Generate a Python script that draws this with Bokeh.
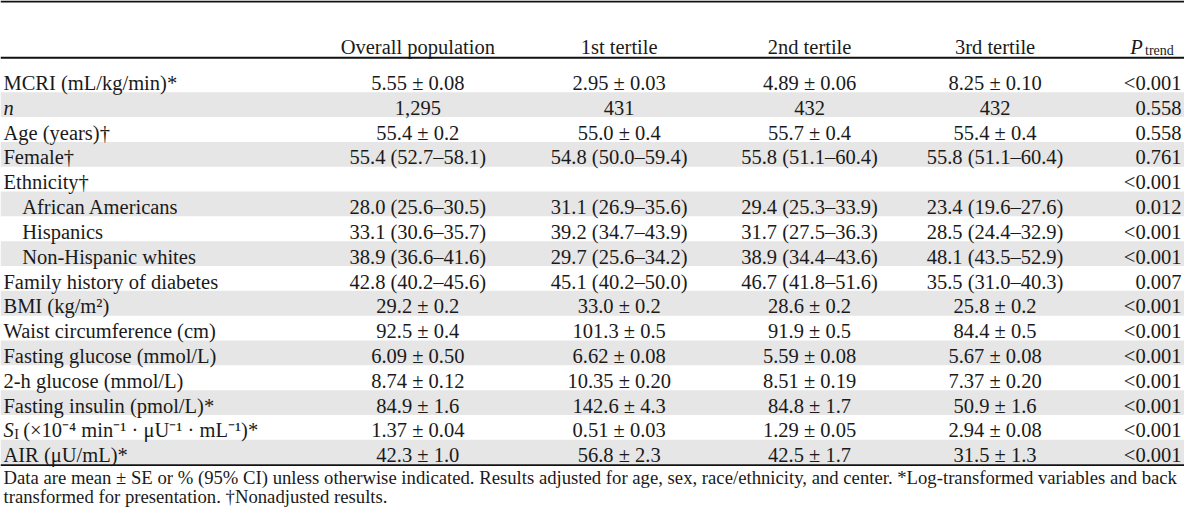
from bokeh.plotting import figure
from bokeh.models import Range1d
from bokeh.core.properties import value
from bokeh.embed import file_html
from bokeh.resources import INLINE

# ---------------- data ----------------
col_headers = ["Overall population", "1st tertile", "2nd tertile", "3rd tertile"]
p_header_main = "P"
p_header_sub = "trend"

row_labels = [
    "MCRI (mL/kg/min)*",
    "n",
    "Age (years)†",
    "Female†",
    "Ethnicity†",
    "African Americans",
    "Hispanics",
    "Non-Hispanic whites",
    "Family history of diabetes",
    "BMI (kg/m²)",
    "Waist circumference (cm)",
    "Fasting glucose (mmol/L)",
    "2-h glucose (mmol/L)",
    "Fasting insulin (pmol/L)*",
    "SI (×10⁻⁴ min⁻¹ · μU⁻¹ · mL⁻¹)*",
    "AIR (μU/mL)*",
]
row_indent = [0, 0, 0, 0, 0, 1, 1, 1, 0, 0, 0, 0, 0, 0, 0, 0]
si_main, si_sub, si_rest = "S", "I", "(×10⁻⁴ min⁻¹ · μU⁻¹ · mL⁻¹)*"

overall = ["5.55 ± 0.08", "1,295", "55.4 ± 0.2", "55.4 (52.7–58.1)", "",
           "28.0 (25.6–30.5)", "33.1 (30.6–35.7)", "38.9 (36.6–41.6)",
           "42.8 (40.2–45.6)", "29.2 ± 0.2", "92.5 ± 0.4", "6.09 ± 0.50",
           "8.74 ± 0.12", "84.9 ± 1.6", "1.37 ± 0.04", "42.3 ± 1.0"]
tertile1 = ["2.95 ± 0.03", "431", "55.0 ± 0.4", "54.8 (50.0–59.4)", "",
            "31.1 (26.9–35.6)", "39.2 (34.7–43.9)", "29.7 (25.6–34.2)",
            "45.1 (40.2–50.0)", "33.0 ± 0.2", "101.3 ± 0.5", "6.62 ± 0.08",
            "10.35 ± 0.20", "142.6 ± 4.3", "0.51 ± 0.03", "56.8 ± 2.3"]
tertile2 = ["4.89 ± 0.06", "432", "55.7 ± 0.4", "55.8 (51.1–60.4)", "",
            "29.4 (25.3–33.9)", "31.7 (27.5–36.3)", "38.9 (34.4–43.6)",
            "46.7 (41.8–51.6)", "28.6 ± 0.2", "91.9 ± 0.5", "5.59 ± 0.08",
            "8.51 ± 0.19", "84.8 ± 1.7", "1.29 ± 0.05", "42.5 ± 1.7"]
tertile3 = ["8.25 ± 0.10", "432", "55.4 ± 0.4", "55.8 (51.1–60.4)", "",
            "23.4 (19.6–27.6)", "28.5 (24.4–32.9)", "48.1 (43.5–52.9)",
            "35.5 (31.0–40.3)", "25.8 ± 0.2", "84.4 ± 0.5", "5.67 ± 0.08",
            "7.37 ± 0.20", "50.9 ± 1.6", "2.94 ± 0.08", "31.5 ± 1.3"]
p_trend = ["<0.001", "0.558", "0.558", "0.761", "<0.001", "0.012", "<0.001",
           "<0.001", "0.007", "<0.001", "<0.001", "<0.001", "<0.001",
           "<0.001", "<0.001", "<0.001"]

footnotes = [
    "Data are mean ± SE or % (95% CI) unless otherwise indicated. Results adjusted for age, sex, race/ethnicity, and center. *Log-transformed variables and back",
    "transformed for presentation. †Nonadjusted results.",
]

# ---------------- layout (reference pixel space) ----------------
REF_W, REF_H = 1200, 529
W, H = 1184, 513
FONT = value("Liberation Serif")
FS = "20.5px"
FS_SMALL = "14px"
FS_NOTE = "18.7px"
TXT = "#1a1a1a"
BAND = "#e6e6e6"

row_top0 = 69.0
pitch = 25.6
baseline_off = 16.0
label_x = 3
indent_w = 19
col_x = [423, 627, 820, 1008]
p_right = 1197

p = figure(width=W, height=H, x_range=Range1d(0, REF_W), y_range=Range1d(REF_H, 0),
           output_backend="svg", toolbar_location=None,
           x_axis_location=None, y_axis_location=None,
           min_border=0, min_border_left=0, min_border_right=0,
           min_border_top=0, min_border_bottom=0)
p.grid.visible = False
p.outline_line_color = None
p.background_fill_color = "white"
p.border_fill_color = "white"

n = len(row_labels)
tops = [row_top0 + pitch * i for i in range(n)]
base = [t + baseline_off for t in tops]

# gray bands for alternate rows
band_idx = [i for i in range(n) if i % 2 == 1]
p.quad(left=0, right=REF_W, top=[tops[i] for i in band_idx],
       bottom=[tops[i] + pitch for i in band_idx], fill_color=BAND, line_color=None)

# rules
rule_y = [1.0, 59.0, row_top0 + pitch * n + 0.5]
rule_w = [2.0, 2.0, 1.6]
for y, lw in zip(rule_y, rule_w):
    p.segment(x0=0, x1=REF_W, y0=y, y1=y, line_color="#111111", line_width=lw)

common = dict(text_font=FONT, text_color=TXT, text_baseline="alphabetic")

# header
header_base = 47.5
p.text(x=col_x, y=[header_base] * 4, text=col_headers, text_align="center",
       text_font_size=FS, **common)
p.text(x=[1145], y=[header_base], text=[p_header_main], text_align="left",
       text_font_size=FS, text_font_style="italic", **common)
p.text(x=[1160], y=[header_base + 4], text=[p_header_sub], text_align="left",
       text_font_size=FS_SMALL, **common)

# row labels
si_row = row_labels.index("SI (×10⁻⁴ min⁻¹ · μU⁻¹ · mL⁻¹)*")
n_row = row_labels.index("n")
plain = [i for i in range(n) if i not in (si_row, n_row)]
p.text(x=[label_x + indent_w * row_indent[i] for i in plain], y=[base[i] for i in plain],
       text=[row_labels[i] for i in plain], text_align="left", text_font_size=FS, **common)
p.text(x=[label_x], y=[base[n_row]], text=[row_labels[n_row]], text_align="left",
       text_font_size=FS, text_font_style="italic", **common)
p.text(x=[label_x], y=[base[si_row]], text=[si_main], text_align="left",
       text_font_size=FS, text_font_style="italic", **common)
p.text(x=[label_x + 11], y=[base[si_row] + 4], text=[si_sub], text_align="left",
       text_font_size=FS_SMALL, **common)
p.text(x=[label_x + 20], y=[base[si_row]], text=[si_rest], text_align="left",
       text_font_size=FS, **common)

# value columns
for cx, vals in zip(col_x, [overall, tertile1, tertile2, tertile3]):
    p.text(x=[cx] * n, y=base, text=vals, text_align="center", text_font_size=FS, **common)
p.text(x=[p_right] * n, y=base, text=p_trend, text_align="right", text_font_size=FS, **common)

# footnotes
note_base = [492, 511]
p.text(x=[label_x] * len(footnotes), y=note_base, text=footnotes, text_align="left",
       text_font_size=FS_NOTE, **common)

open("out.html", "w").write(file_html(p, INLINE))
